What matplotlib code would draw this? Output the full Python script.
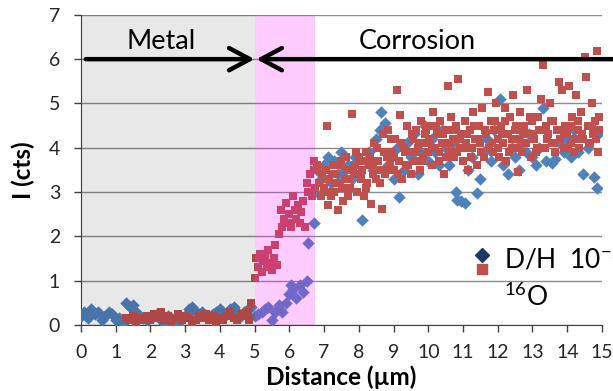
import matplotlib
matplotlib.use("Agg")
import matplotlib.pyplot as plt
from matplotlib.lines import Line2D

plt.rcParams['font.family'] = ['Lato', 'DejaVu Sans']
plt.rcParams['mathtext.fontset'] = 'custom'
plt.rcParams['mathtext.rm'] = 'Lato'

# D/H x 10^-2 (blue diamonds)
dh_x = [0.0, 0.1, 0.2, 0.3, 0.4, 0.5, 0.6, 0.7, 0.8, 0.9, 1.0, 1.1, 1.2, 1.3, 1.4,
        1.5, 1.6, 1.7, 1.8, 1.9, 2.0, 2.1, 2.2, 2.3, 2.4, 2.5, 2.6, 2.7, 2.8, 2.9,
        3.0, 3.1, 3.2, 3.3, 3.4, 3.5, 3.6, 3.7, 3.8, 3.9, 4.0, 4.1, 4.2, 4.3, 4.4,
        4.5, 4.6, 4.7, 4.8, 4.9,
        5.0, 5.1, 5.2, 5.3, 5.4, 5.5, 5.6, 5.7, 5.8, 5.9, 6.0, 6.05, 6.1, 6.2, 6.3,
        6.4, 6.5, 6.55, 6.7,
        6.75, 6.8, 6.9, 7.0, 7.1, 7.2, 7.3, 7.4, 7.5, 7.6, 7.7, 7.8, 7.9, 8.0, 8.09,
        8.2, 8.3, 8.4, 8.5, 8.6, 8.64, 8.75, 8.85, 9.0, 9.1, 9.16, 9.3, 9.4, 9.5, 9.6,
        9.7, 9.8, 9.9, 10.0, 10.1, 10.2, 10.3, 10.4, 10.5, 10.6, 10.7, 10.8, 10.83,
        10.95, 11.06, 11.15, 11.25, 11.4, 11.5, 11.6, 11.7, 11.8, 11.9, 12.06, 12.15,
        12.3, 12.4, 12.5, 12.6, 12.7, 12.8, 12.9, 13.0, 13.1, 13.2, 13.3, 13.4, 13.56,
        13.65, 13.8, 13.9, 14.0, 14.1, 14.2, 14.3, 14.45, 14.6, 14.77, 14.86, 14.9]
dh_y = [0.2, 0.3, 0.15, 0.35, 0.25, 0.3, 0.1, 0.2, 0.3, 0.25, 0.1, 0.15, 0.05, 0.5, 0.4,
        0.45, 0.3, 0.2, 0.15, 0.1, 0.15, 0.2, 0.25, 0.1, 0.05, 0.2, 0.15, 0.1, 0.0, 0.15,
        0.2, 0.35, 0.4, 0.3, 0.25, 0.3, 0.2, 0.15, 0.25, 0.3, 0.35, 0.3, 0.25, 0.35, 0.4,
        0.3, 0.2, 0.3, 0.35, 0.4,
        0.2, 0.25, 0.3, 0.35, 0.4, 0.1, 0.3, 0.45, 0.3, 0.5, 0.7, 0.9, 0.8, 0.6, 0.9,
        0.75, 1.0, 1.85, 2.3,
        3.0, 3.5, 3.3, 3.6, 3.8, 3.2, 3.7, 3.4, 3.9, 3.5, 3.6, 3.3, 3.8, 3.4, 2.37,
        3.7, 3.9, 3.5, 4.2, 4.4, 4.81, 4.56, 3.6, 3.3, 4.0, 2.89, 3.5, 4.1, 3.8, 4.3,
        3.4, 3.9, 4.5, 3.7, 4.2, 3.9, 3.6, 4.4, 4.0, 3.6, 4.1, 3.0, 2.82,
        2.8, 2.75, 3.5, 3.8, 2.98, 3.3, 3.9, 4.2, 3.7, 4.4, 5.1, 3.6,
        3.4, 4.0, 3.8, 3.5, 4.1, 3.9, 4.3, 3.8, 3.6, 4.0, 4.9, 3.7, 3.66,
        3.75, 4.1, 3.9, 4.2, 3.8, 4.4, 3.9, 3.41, 4.0, 3.34, 3.09, 4.3]

# 16O (red squares)
o_x = [1.3, 1.4, 1.5, 1.6, 1.7, 1.8, 1.9, 2.0, 2.1, 2.2, 2.3, 2.4, 2.5, 2.6, 2.7, 2.8,
       2.9, 3.0, 3.1, 3.2, 3.3, 3.4, 3.5, 3.6, 3.7, 3.8, 3.9, 4.0, 4.1, 4.2, 4.3, 4.4,
       4.5, 4.6, 4.7, 4.8, 4.85, 4.9,
       5.0, 5.05, 5.1, 5.15, 5.2, 5.25, 5.3, 5.35, 5.4, 5.45, 5.5, 5.55, 5.6, 5.65,
       5.7, 5.75, 5.8, 5.85, 5.9, 5.95, 6.0, 6.05, 6.1, 6.15, 6.2, 6.25, 6.3, 6.35,
       6.4, 6.45, 6.5, 6.55, 6.6, 6.65, 6.7, 6.72, 6.74,
       6.8, 6.85, 6.9, 6.95,
       7.0, 7.05, 7.08, 7.1, 7.15, 7.2, 7.25, 7.3, 7.35, 7.4, 7.45, 7.5, 7.55, 7.6,
       7.65, 7.7, 7.75, 7.8, 7.85, 7.9, 7.95,
       8.0, 8.05, 8.1, 8.15, 8.2, 8.25, 8.3, 8.35, 8.4, 8.45, 8.5, 8.55, 8.6, 8.67,
       8.7, 8.75, 8.8, 8.85, 8.9, 8.95,
       9.0, 9.05, 9.1, 9.15, 9.19, 9.25, 9.3, 9.35, 9.4, 9.45, 9.5, 9.55, 9.6, 9.65,
       9.7, 9.75, 9.8, 9.85, 9.9, 9.95,
       10.0, 10.05, 10.1, 10.15, 10.2, 10.25, 10.3, 10.35, 10.4, 10.45, 10.5, 10.57,
       10.6, 10.65, 10.7, 10.75, 10.8, 10.86, 10.9, 10.95,
       11.0, 11.05, 11.1, 11.15, 11.2, 11.25, 11.3, 11.35, 11.4, 11.45, 11.5, 11.55,
       11.6, 11.65, 11.72, 11.75, 11.8, 11.85, 11.9, 11.95,
       12.0, 12.05, 12.1, 12.15, 12.2, 12.25, 12.3, 12.35, 12.4, 12.45, 12.5, 12.58,
       12.6, 12.65, 12.7, 12.75, 12.8, 12.85, 12.9, 12.95,
       13.0, 13.05, 13.1, 13.15, 13.2, 13.25, 13.3, 13.35, 13.4, 13.45, 13.5, 13.55,
       13.6, 13.65, 13.7, 13.76, 13.8, 13.85, 13.9, 13.95,
       14.0, 14.05, 14.1, 14.15, 14.2, 14.25, 14.3, 14.35, 14.4, 14.45, 14.51, 14.54,
       14.6, 14.65, 14.7, 14.75, 14.8, 14.86, 14.9, 14.95]
o_y = [0.15, 0.1, 0.2, 0.05, 0.15, 0.1, 0.2, 0.1, 0.25, 0.15, 0.3, 0.1, 0.2, 0.05, 0.15,
       0.25, 0.1, 0.2, 0.15, 0.05, 0.1, 0.2, 0.15, 0.25, 0.1, 0.2, 0.05, 0.15, 0.1, 0.2,
       0.3, 0.15, 0.1, 0.25, 0.2, 0.3, 0.1, 0.5,
       1.05, 1.5, 1.3, 1.6, 1.2, 1.45, 1.55, 1.3, 1.7, 1.4, 1.25, 1.5, 1.8, 1.35,
       2.05, 2.6, 2.2, 2.4, 2.75, 2.3, 2.5, 2.2, 2.9, 2.6, 2.4, 2.7, 2.3, 2.55,
       2.8, 2.2, 3.2, 3.0, 3.4, 2.9, 3.7, 3.5, 3.1,
       3.6, 3.2, 2.9, 3.4,
       3.1, 3.5, 4.49, 2.7, 3.3, 2.9, 3.6, 3.0, 3.4, 2.6, 3.2, 3.7, 2.8, 3.3,
       3.5, 2.9, 3.1, 4.76, 3.4, 3.6, 3.0,
       3.8, 3.3, 3.5, 2.9, 3.9, 3.2, 3.6, 2.73, 3.4, 4.1, 3.3, 3.7, 3.5, 2.62,
       4.3, 3.4, 3.8, 4.4, 3.6, 3.9,
       3.5, 4.2, 5.3, 3.7, 4.74, 3.3, 4.0, 3.6, 4.5, 3.9, 3.4, 4.2, 3.7, 4.4,
       4.0, 3.5, 4.6, 3.8, 4.3, 4.1,
       3.9, 4.5, 3.6, 4.8, 4.0, 4.3, 3.7, 4.6, 4.1, 3.4, 4.4, 5.39,
       3.9, 4.7, 4.2, 3.8, 4.5, 5.55, 4.0, 4.3,
       3.7, 4.6, 4.1, 3.5, 4.4, 4.0, 4.8, 4.2, 3.6, 4.5, 4.1, 4.9,
       3.8, 4.3, 5.26, 4.0, 4.6, 3.9, 4.4, 5.0,
       4.2, 3.8, 4.5, 4.1, 4.9, 3.7, 4.3, 4.7, 4.0, 5.2, 4.4, 3.45,
       4.2, 4.8, 3.9, 4.5, 4.1, 5.3, 4.3, 3.8,
       4.6, 4.2, 3.9, 4.7, 4.4, 5.1, 5.87, 4.0, 4.5, 4.3, 5.0, 4.1,
       4.6, 3.9, 4.4, 5.49, 4.2, 5.3, 4.0, 4.5,
       4.3, 5.4, 4.1, 4.7, 3.9, 5.2, 4.4, 4.0, 4.8, 4.2, 6.05, 5.6,
       4.5, 4.1, 5.0, 4.3, 4.6, 6.18, 3.9, 4.4]

# 16O, second pass through the corrosion layer
o2_x = [7.02, 7.12, 7.22, 7.32, 7.42, 7.52, 7.62, 7.72, 7.82, 7.92, 8.02, 8.12, 8.22,
        8.32, 8.42, 8.52, 8.62, 8.72, 8.82, 8.92, 9.02, 9.12, 9.22, 9.32, 9.42, 9.52,
        9.62, 9.72, 9.82, 9.92, 10.02, 10.12, 10.22, 10.32, 10.42, 10.52, 10.62, 10.72,
        10.82, 10.92, 11.02, 11.12, 11.22, 11.32, 11.42, 11.52, 11.62, 11.82, 11.92,
        12.02, 12.12, 12.22, 12.32, 12.42, 12.52, 12.62, 12.72, 12.82, 12.92, 13.02,
        13.12, 13.22, 13.42, 13.52, 13.62, 13.72, 13.92, 14.02, 14.12, 14.22, 14.32,
        14.42, 14.62, 14.72, 14.82, 14.92]
o2_y = [3.3, 3.0, 3.4, 3.2, 3.6, 3.1, 3.8, 3.3, 3.5, 3.9, 3.4, 3.7, 3.1, 3.8, 3.6,
        4.0, 3.2, 3.9, 3.5, 4.2, 3.8, 3.4, 4.1, 3.9, 3.6, 4.3, 3.9, 4.1, 3.7, 4.4,
        4.2, 4.0, 4.5, 3.9, 4.3, 3.8, 4.1, 4.4, 3.9, 4.2, 4.0, 4.3, 3.8, 4.5, 4.2,
        3.9, 4.4, 4.1, 4.6, 4.0, 4.3, 4.6, 3.9, 4.2, 4.5, 4.0, 4.3, 4.1, 4.7, 4.3,
        4.0, 4.4, 4.2, 4.6, 4.1, 4.4, 4.3, 4.0, 4.5, 4.2, 4.6, 4.3, 4.1, 4.5, 4.2,
        4.7]

yticks = [0, 1, 2, 3, 4, 5, 6, 7]
xticks = list(range(0, 16))

blue = '#4F81BD'
red = '#C0504D'

fig = plt.figure(figsize=(6.13, 3.91), dpi=100)
ax = fig.add_axes([0.132, 0.169, 0.850, 0.793])

ax.scatter(dh_x, dh_y, marker='D', s=40, color=blue, linewidths=0, zorder=3)
ax.scatter(o_x + o2_x, o_y + o2_y, marker='s', s=32, color=red, linewidths=0, zorder=3)

# shaded zones drawn over the markers
ax.axvspan(0, 5, color='black', alpha=0.09, lw=0, zorder=4)
ax.axvspan(5, 6.75, color='magenta', alpha=0.2, lw=0, zorder=4)

ax.set_xlim(0, 15)
ax.set_ylim(0, 7)
ax.set_xticks(xticks)
ax.set_yticks(yticks)
ax.yaxis.grid(True, color='#8c8c8c', lw=1)
ax.set_axisbelow(True)
for s in ['top', 'right']:
    ax.spines[s].set_visible(False)
for s in ['left', 'bottom']:
    ax.spines[s].set_color('#404040')
ax.tick_params(axis='both', labelsize=14, colors='#404040', labelcolor='#262626',
               length=5, width=1, direction='out')
ax.tick_params(axis='x', pad=9)
ax.tick_params(axis='y', pad=10)

ax.set_xlabel('Distance (µm)', fontsize=17.5, fontweight='bold', labelpad=3)
ax.set_ylabel('I (cts)', fontsize=17.5, fontweight='bold', labelpad=10)

# region arrows
ax.annotate('', xy=(5, 6), xytext=(0.14, 6), annotation_clip=False,
            arrowprops=dict(arrowstyle='->,head_length=0.75,head_width=0.4', lw=3.2,
                            color='black', shrinkA=0, shrinkB=0, mutation_scale=20),
            zorder=5)
ax.annotate('', xy=(5.05, 6), xytext=(15.5, 6), annotation_clip=False,
            arrowprops=dict(arrowstyle='->,head_length=0.75,head_width=0.4', lw=3.2,
                            color='black', shrinkA=0, shrinkB=0, mutation_scale=20),
            zorder=5)
ax.text(2.32, 6.4, 'Metal', fontsize=19.5, ha='center', va='center', zorder=6)
ax.text(9.68, 6.4, 'Corrosion', fontsize=19.5, ha='center', va='center', zorder=6)

# legend
handles = [Line2D([], [], marker='D', color='#1F3864', ls='', markersize=7.5),
           Line2D([], [], marker='s', color=red, ls='', markersize=7.5)]
ax.legend(handles, ['', ''], loc='center', bbox_to_anchor=(0.77, 0.20),
          frameon=False, handlelength=1, handletextpad=0, labelspacing=0.15,
          borderpad=0, fontsize=10)
ax.text(0.812, 0.215, 'D/H  10$^{-2}$', transform=ax.transAxes, fontsize=19,
        ha='left', va='center')
ax.text(0.812, 0.09, '$^{16}$O', transform=ax.transAxes, fontsize=19,
        ha='left', va='center')

fig.savefig('out.png', dpi=100)
